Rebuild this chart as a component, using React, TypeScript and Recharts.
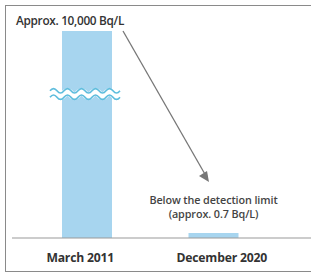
import { Bar, BarChart, LabelList, Rectangle, XAxis, YAxis } from "recharts";

// drawn bar heights as a share of the (broken) axis
const periods = ["March 2011", "December 2020"];
const drawnHeight = [100, 2.4];
const valueNotes = [["Approx. 10,000 Bq/L"], ["Below the detection limit", "(approx. 0.7 Bq/L)"]];

const data = periods.map((name, i) => ({ name, value: drawnHeight[i], note: valueNotes[i] }));

const FONT = "'Open Sans', 'Noto Sans', sans-serif";
const BAR = "#a7d5ef";
const WAVE = "#5fbddd";
// labels in the source sit a little off the bar centres
const tickShift = [-7, 8];

function wavePath(x0: number, x1: number, y: number) {
  const period = 14;
  const amp = 2.2;
  let d = `M${x0},${y}`;
  for (let x = x0; x < x1; x += period) {
    d += ` q${period / 4},${-amp * 2} ${period / 2},0 t${period / 2},0`;
  }
  return d;
}

function BarShape(props: any) {
  const { x, y, width, height, index } = props;
  if (index !== 0) return <Rectangle x={x} y={y} width={width} height={height} fill={BAR} />;
  const wy = y + 63;
  const x0 = x - 12;
  const x1 = x + width + 8;
  return (
    <g>
      <Rectangle x={x} y={y} width={width} height={height} fill={BAR} />
      <path d={wavePath(x0, x1, wy)} stroke="#fff" strokeWidth={7} fill="none" />
      <path d={wavePath(x0, x1, wy - 3.2)} stroke={WAVE} strokeWidth={1.6} fill="none" />
      <path d={wavePath(x0, x1, wy + 3.2)} stroke={WAVE} strokeWidth={1.6} fill="none" />
    </g>
  );
}

function NoteLabel(props: any) {
  const { x, y, width, index } = props;
  if (index === 0) {
    const sx = x + width + 11;
    const ex = sx + 86;
    const ey = y + 151;
    return (
      <g>
        <text x={x - 46} y={y - 6} fontSize={11.8} fontWeight={600} fill="#333" fontFamily={FONT} letterSpacing={-0.3}>
          {valueNotes[0][0]}
        </text>
        <line x1={sx} y1={y} x2={ex - 3} y2={ey - 6} stroke="#777" strokeWidth={1.3} />
        <path d={`M${ex},${ey} L${ex - 10},${ey - 6} L${ex - 2},${ey - 11} Z`} fill="#777" />
      </g>
    );
  }
  const cx = x + width / 2;
  return (
    <g fontSize={10.8} fontWeight={600} fill="#444" fontFamily={FONT} letterSpacing={-0.1}>
      <text x={cx} y={y - 29} textAnchor="middle">{valueNotes[1][0]}</text>
      <text x={cx} y={y - 15.5} textAnchor="middle">{valueNotes[1][1]}</text>
    </g>
  );
}

function PeriodTick(props: any) {
  const { x, y, payload, index } = props;
  return (
    <text x={x + tickShift[index]} y={y + 24} textAnchor="middle" fontSize={12.2} fontWeight="bold" fill="#333" fontFamily={FONT} letterSpacing={-0.2}>
      {payload.value}
    </text>
  );
}

export default function App() {
  return (
    <div style={{ position: "absolute", left: 0, top: 0, width: 311, height: 273, background: "#fff" }}>
      <div
        style={{
          position: "absolute",
          left: 5,
          top: 5,
          width: 320,
          height: 265,
          border: "1px solid #8a8a8a",
        }}
      />
      <BarChart
        width={311}
        height={273}
        data={data}
        margin={{ top: 31, right: 0, bottom: 0, left: 12 }}
        style={{ position: "absolute", left: 0, top: 0 }}
      >
        <XAxis
          dataKey="name"
          padding={{ left: 12, right: 34 }}
          axisLine={{ stroke: "#999", strokeWidth: 1.2 }}
          tickLine={false}
          tickSize={0}
          tickMargin={0}
          height={35}
          tick={<PeriodTick />}
          interval={0}
        />
        <YAxis hide domain={[0, 100]} />
        <Bar dataKey="value" barSize={50} fill={BAR} shape={<BarShape />} isAnimationActive={false}>
          <LabelList dataKey="value" content={<NoteLabel />} />
        </Bar>
      </BarChart>
    </div>
  );
}
